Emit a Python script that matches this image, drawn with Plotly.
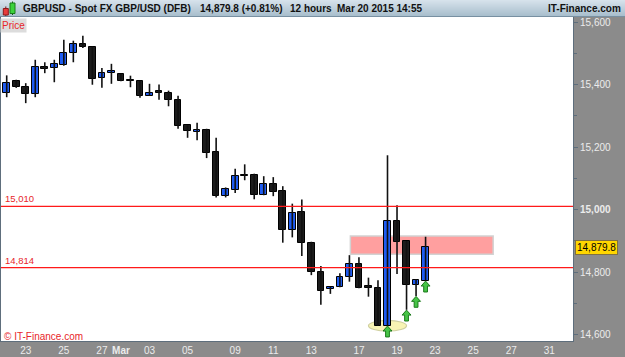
import plotly.graph_objects as go

# ---------------- data (12-hour candles, GBP/USD x 10000) ----------------
opens = [15374, 15413, 15394, 15369, 15458, 15453, 15464, 15502, 15531, 15522,
         15421, 15438, 15433, 15413, 15413, 15365, 15377, 15374, 15350, 15270,
         15250, 15256, 15184, 15043, 15064, 15110, 15112, 15046, 15083, 15059,
         14936, 14991, 14894, 14801, 14746, 14753, 14785, 14825, 14752, 14748,
         14628, 14964, 14899, 14758, 14772]
highs = [15430, 15416, 15405, 15480, 15472, 15480, 15544, 15541, 15557, 15522,
         15454, 15467, 15435, 15429, 15413, 15403, 15401, 15381, 15365, 15270,
         15278, 15259, 15230, 15071, 15131, 15145, 15115, 15107, 15104, 15075,
         15019, 15032, 14897, 14819, 14753, 14796, 14854, 14847, 14782, 14774,
         15174, 15014, 14899, 14777, 14913]
lows = [15360, 15390, 15341, 15360, 15437, 15408, 15461, 15472, 15518, 15400,
        15390, 15403, 15411, 15392, 15358, 15365, 15352, 15331, 15259, 15230,
        15222, 15165, 15039, 15039, 15053, 15094, 15033, 15046, 15043, 14894,
        14911, 14851, 14790, 14695, 14730, 14751, 14769, 14748, 14721, 14628,
        14628, 14794, 14679, 14723, 14772]
closes = [15406, 15394, 15369, 15458, 15452, 15465, 15502, 15531, 15520, 15419,
          15438, 15445, 15411, 15412, 15365, 15373, 15375, 15350, 15267, 15251,
          15256, 15182, 15043, 15065, 15108, 15108, 15046, 15083, 15057, 14934,
          14989, 14894, 14801, 14739, 14753, 14783, 14825, 14748, 14750, 14628,
          14964, 14897, 14758, 14774, 14879.8]

x_tick_pos = [2, 6, 10, 12, 15, 19, 24, 28, 32, 37, 41, 45, 49, 53, 57]
x_tick_text = ["23", "25", "27", "<b>Mar</b>", "03", "05", "09", "11", "13",
               "17", "19", "23", "25", "27", "31"]
y_tick_vals = [14600, 14800, 15000, 15200, 15400, 15600]
y_tick_text = ["14,600", "14,800", "<b>15,000</b>", "15,200", "15,400", "15,600"]

level_values = [15010, 14814]
level_labels = ["15,010", "14,814"]
zone_x = [36.1, 51.1]
zone_price = [14857, 14915]
signal_idx = [40, 42, 43, 44]
highlight_idx = 40
last_price = 14879.8
change_pct = 0.81

title_text = "GBPUSD - Spot FX GBP/USD (DFB)"
period_text = "12 hours"
stamp_text = "Mar 20 2015 14:55"

# ---------------- geometry ----------------
W, H = 625, 357
ML, MR, MT, MB = 1, 52, 17, 16
PW, PH = W - ML - MR, H - MT - MB
FONT = "Liberation Sans, Arial, sans-serif"


def pxx(p):
    return (p - ML) / PW


def pxy(p):
    return (H - MB - p) / PH


n = len(opens)
idx = list(range(n))
up = [c >= o for o, c in zip(opens, closes)]
bases = [min(o, c) for o, c in zip(opens, closes)]
heights = [max(abs(c - o), 4) for o, c in zip(opens, closes)]
colors = ["#1f5cf2" if u else "#1c1c1c" for u in up]

wx, wy = [], []
for i in idx:
    wx += [i, i, None]
    wy += [lows[i], highs[i], None]

fig = go.Figure()
fig.add_trace(go.Scatter(x=wx, y=wy, mode="lines",
                         line=dict(color="#111111", width=1.6),
                         hoverinfo="skip", showlegend=False))
fig.add_trace(go.Bar(x=idx, y=heights, base=bases, width=0.7,
                     marker=dict(color=colors, line=dict(color="#000000", width=1)),
                     showlegend=False, hoverinfo="skip"))

shapes = []
# header gradient
top_c = (214, 226, 235)
bot_c = (166, 189, 204)
for k in range(MT):
    t = k / (MT - 1)
    c = tuple(int(top_c[j] + (bot_c[j] - top_c[j]) * t) for j in range(3))
    shapes.append(dict(type="rect", xref="paper", yref="paper",
                       x0=pxx(0), x1=pxx(W), y0=pxy(k + 1), y1=pxy(k),
                       fillcolor="rgb(%d,%d,%d)" % c, line=dict(width=0), layer="above"))
shapes.append(dict(type="line", xref="paper", yref="paper", x0=pxx(0), x1=pxx(W),
                   y0=pxy(MT - 0.5), y1=pxy(MT - 0.5),
                   line=dict(color="#7890a2", width=1), layer="above"))
# icon
shapes += [
    dict(type="line", xref="paper", yref="paper", x0=pxx(5.8), x1=pxx(5.8),
         y0=pxy(16), y1=pxy(6.5), line=dict(color="#7a1010", width=1), layer="above"),
    dict(type="rect", xref="paper", yref="paper", x0=pxx(3.3), x1=pxx(8.3),
         y0=pxy(15), y1=pxy(8.5), fillcolor="#e83c3c",
         line=dict(color="#8a1a1a", width=1), layer="above"),
    dict(type="line", xref="paper", yref="paper", x0=pxx(12.5), x1=pxx(12.5),
         y0=pxy(15), y1=pxy(1.5), line=dict(color="#106010", width=1), layer="above"),
    dict(type="rect", xref="paper", yref="paper", x0=pxx(10), x1=pxx(15),
         y0=pxy(13.5), y1=pxy(3), fillcolor="#3cd23c",
         line=dict(color="#1a7a1a", width=1), layer="above"),
]
# resistance zone
shapes.append(dict(type="rect", xref="x", yref="y", x0=zone_x[0], x1=zone_x[1],
                   y0=zone_price[0], y1=zone_price[1], fillcolor="#ff9f9f",
                   line=dict(color="#d2d2d2", width=1.5), layer="below"))
# highlight ellipse
shapes.append(dict(type="circle", xref="x", yref="y",
                   x0=highlight_idx - 2.0, x1=highlight_idx + 2.0,
                   y0=lows[highlight_idx] - 17, y1=lows[highlight_idx] + 17,
                   fillcolor="#f8f4b4", line=dict(color="#cfcfa0", width=1.2),
                   layer="below"))
# level lines
for v in level_values:
    shapes.append(dict(type="line", xref="paper", yref="y", x0=0, x1=1, y0=v, y1=v,
                       line=dict(color="#ff1a1a", width=1.2), layer="above"))
# green arrows under signal candles
for i in signal_idx:
    L = lows[i]
    path = ("M {a},{y0} L {b},{y1} L {c},{y1} L {c},{y2} L {d},{y2} L {d},{y1} "
            "L {e},{y1} Z").format(a=i, b=i + 0.47, c=i + 0.2, d=i - 0.2, e=i - 0.47,
                                   y0=L - 1, y1=L - 17, y2=L - 36)
    shapes.append(dict(type="path", xref="x", yref="y", path=path,
                       fillcolor="#46c446", line=dict(color="#1c7a1c", width=1),
                       layer="above"))

annotations = []
hdr_y = pxy(8.5)
annotations += [
    dict(text="<b>%s</b>" % title_text, x=pxx(21), y=hdr_y, xanchor="left"),
    dict(text="<b>{:,.1f} ({:+.2f}%)</b>".format(last_price, change_pct),
         x=pxx(198), y=hdr_y, xanchor="left"),
    dict(text="<b>%s</b>" % period_text, x=pxx(288), y=hdr_y, xanchor="left"),
    dict(text="<b>%s</b>" % stamp_text, x=pxx(335), y=hdr_y, xanchor="left"),
    dict(text="<b>IT-Finance.com</b>", x=pxx(623), y=hdr_y, xanchor="right"),
]
for a in annotations:
    a.update(xref="paper", yref="paper", yanchor="middle", showarrow=False,
             font=dict(family=FONT, size=10, color="#111111"))

annotations.append(dict(text="Price", xref="paper", yref="paper", x=pxx(0), y=pxy(17.5),
                        xanchor="left", yanchor="top", showarrow=False,
                        bgcolor="#dcdcdc", borderpad=1,
                        font=dict(family=FONT, size=10, color="#e8262a")))
annotations.append(dict(text="© IT-Finance.com", xref="paper", yref="paper",
                        x=pxx(2), y=pxy(336), xanchor="left", yanchor="middle",
                        showarrow=False,
                        font=dict(family=FONT, size=10, color="#e8262a")))
for v, lab in zip(level_values, level_labels):
    annotations.append(dict(text=lab, xref="paper", yref="y", x=pxx(3), y=v,
                            xanchor="left", yanchor="bottom", showarrow=False,
                            font=dict(family=FONT, size=9.5, color="#e8262a")))
annotations.append(dict(text="{:,.1f}".format(last_price), xref="paper", yref="y",
                        x=pxx(575), y=last_price, xanchor="left", yanchor="middle",
                        showarrow=False, bgcolor="#ffd600", bordercolor="#7f7040",
                        borderwidth=1, borderpad=1,
                        font=dict(family=FONT, size=10, color="#000000")))

fig.update_layout(
    width=W, height=H,
    margin=dict(l=ML, r=MR, t=MT, b=MB, pad=0),
    paper_bgcolor="#8b8b8b", plot_bgcolor="#ffffff",
    showlegend=False, bargap=0,
    shapes=shapes, annotations=annotations,
    xaxis=dict(range=[(ML - 6.7) / 9.52, (W - MR - 6.7) / 9.52],
               tickvals=x_tick_pos, ticktext=x_tick_text,
               showgrid=False, zeroline=False, ticks="",
               tickfont=dict(family=FONT, size=10, color="#ececec"),
               showline=True, linecolor="#5e6e7c", linewidth=1, mirror=True,
               fixedrange=True),
    yaxis=dict(side="right", range=[14579, 15617],
               tickvals=y_tick_vals, ticktext=y_tick_text,
               showgrid=False, zeroline=False,
               ticks="outside", ticklen=4, tickcolor="#5e6e7c",
               minor=dict(dtick=100, ticks="outside", ticklen=3, tickcolor="#5e6e7c"),
               tickfont=dict(family=FONT, size=10, color="#ececec"),
               showline=True, linecolor="#5e6e7c", linewidth=1, mirror=True,
               fixedrange=True),
)

fig.write_html("out.html")
